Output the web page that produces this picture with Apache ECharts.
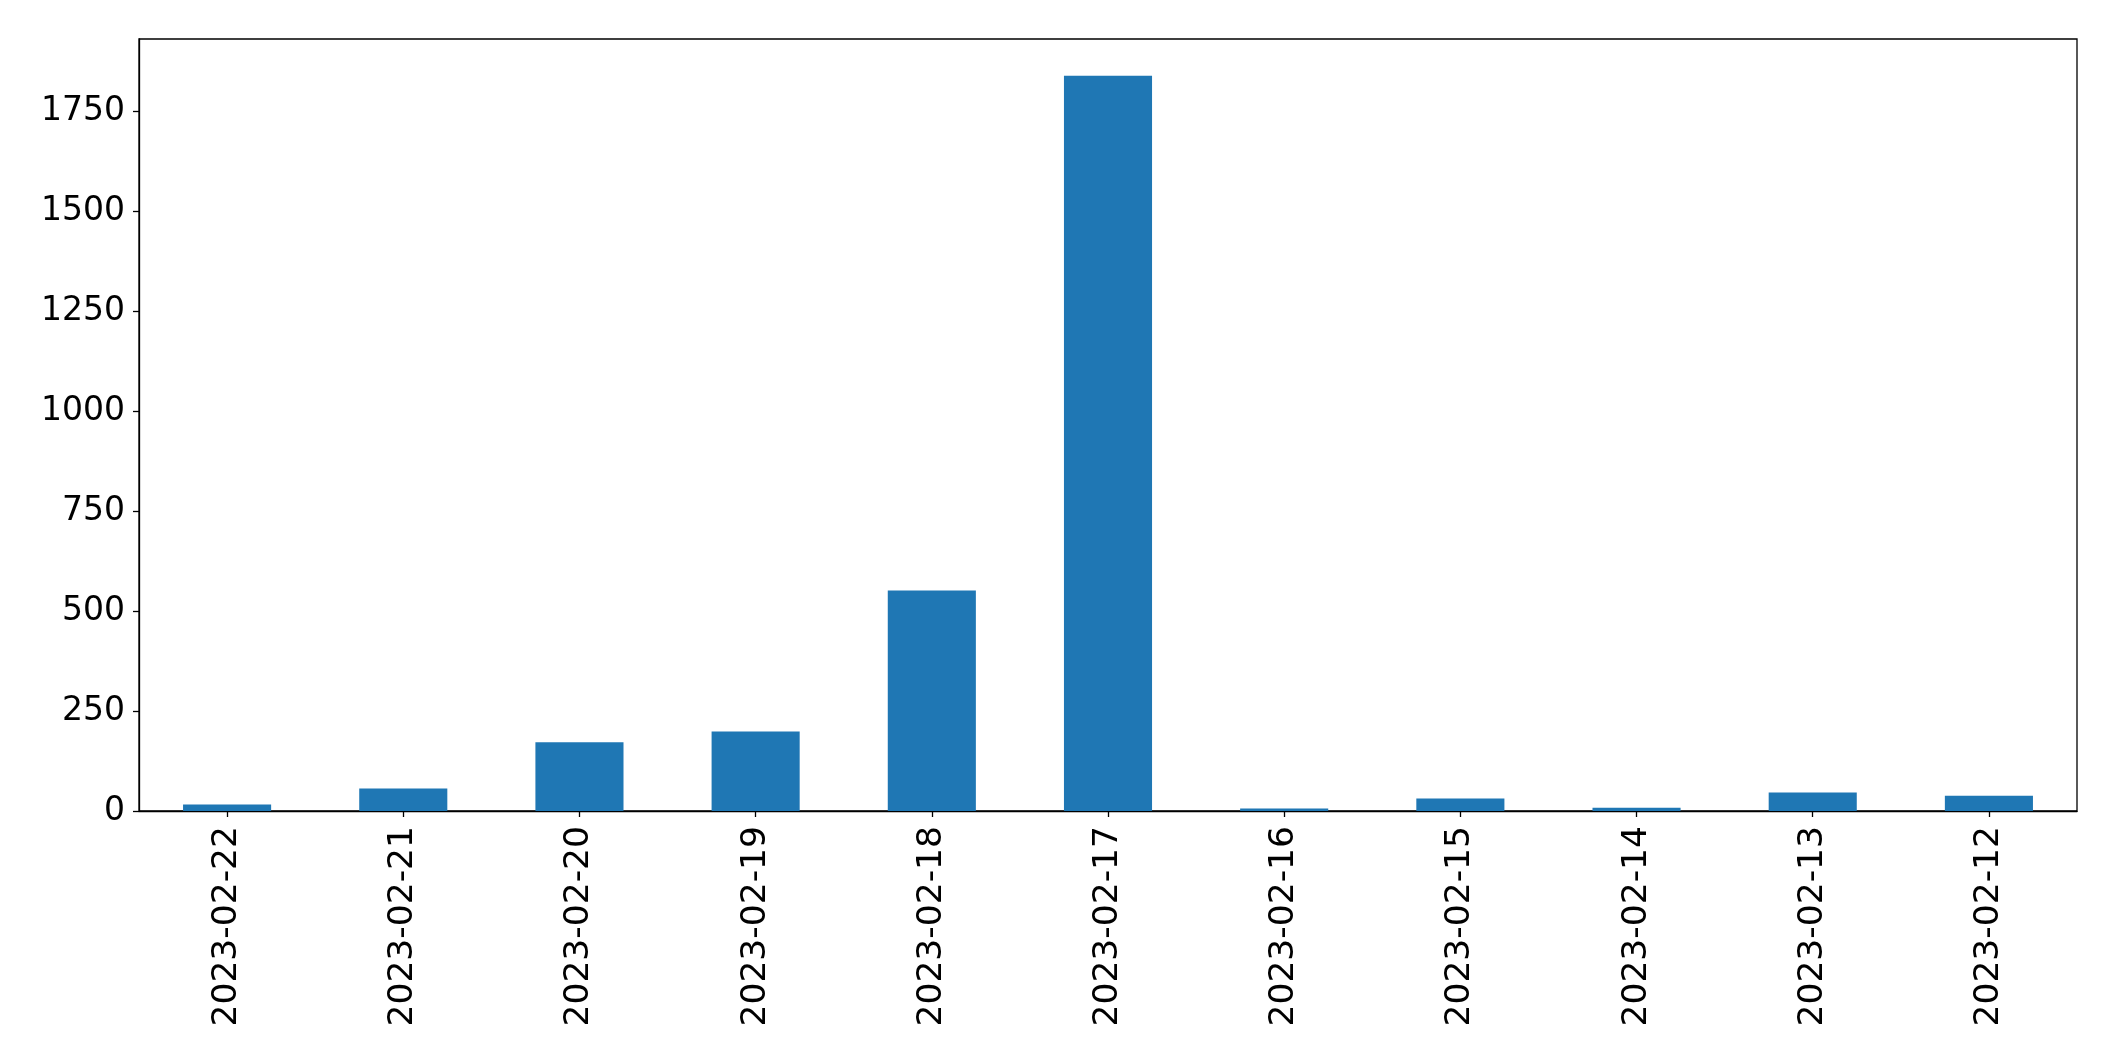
<!DOCTYPE html>
<html><head><meta charset="utf-8">
<script src="https://cdn.jsdelivr.net/npm/echarts@6/dist/echarts.min.js"></script>
<style>html,body{margin:0;padding:0;background:#fff}#c{width:2115px;height:1061px}</style>
</head><body><div id="c"></div>
<script>
const categories = ["2023-02-22","2023-02-21","2023-02-20","2023-02-19","2023-02-18","2023-02-17","2023-02-16","2023-02-15","2023-02-14","2023-02-13","2023-02-12"];
const values = [16, 56, 172, 199, 551, 1838, 6, 31, 8, 46, 38];
const yTicks = [0, 250, 500, 750, 1000, 1250, 1500, 1750];
const yMax = 1930;

const chart = echarts.init(document.getElementById('c'), null, {renderer: 'canvas'});
const font = 'DejaVu Sans';
chart.setOption({
  animation: false,
  backgroundColor: '#ffffff',
  grid: {left: 139, right: 38, top: 39, bottom: 250, show: true, borderColor: '#000', borderWidth: 1.3, containLabel: false},
  xAxis: {
    type: 'category', data: categories,
    axisLine: {show: true, lineStyle: {color: '#000', width: 1.3}},
    axisTick: {show: true, alignWithLabel: true, length: 6, lineStyle: {color: '#000', width: 1.3}},
    axisLabel: {rotate: 90, margin: 15, color: '#000', fontFamily: font, fontSize: 34.5, interval: 0},
    splitLine: {show: false}
  },
  yAxis: {
    type: 'value', min: 0, max: yMax,
    axisLine: {show: true, lineStyle: {color: '#000', width: 1.3}},
    axisTick: {show: true, length: 6, customValues: yTicks, lineStyle: {color: '#000', width: 1.3}},
    axisLabel: {margin: 14, color: '#000', fontFamily: font, fontSize: 33, customValues: yTicks,
      formatter: function (v) { return String(v); }},
    splitLine: {show: false}
  },
  series: [{
    type: 'bar', data: values, barWidth: '50%',
    itemStyle: {color: '#1f77b4'}
  }]
});
</script></body></html>
